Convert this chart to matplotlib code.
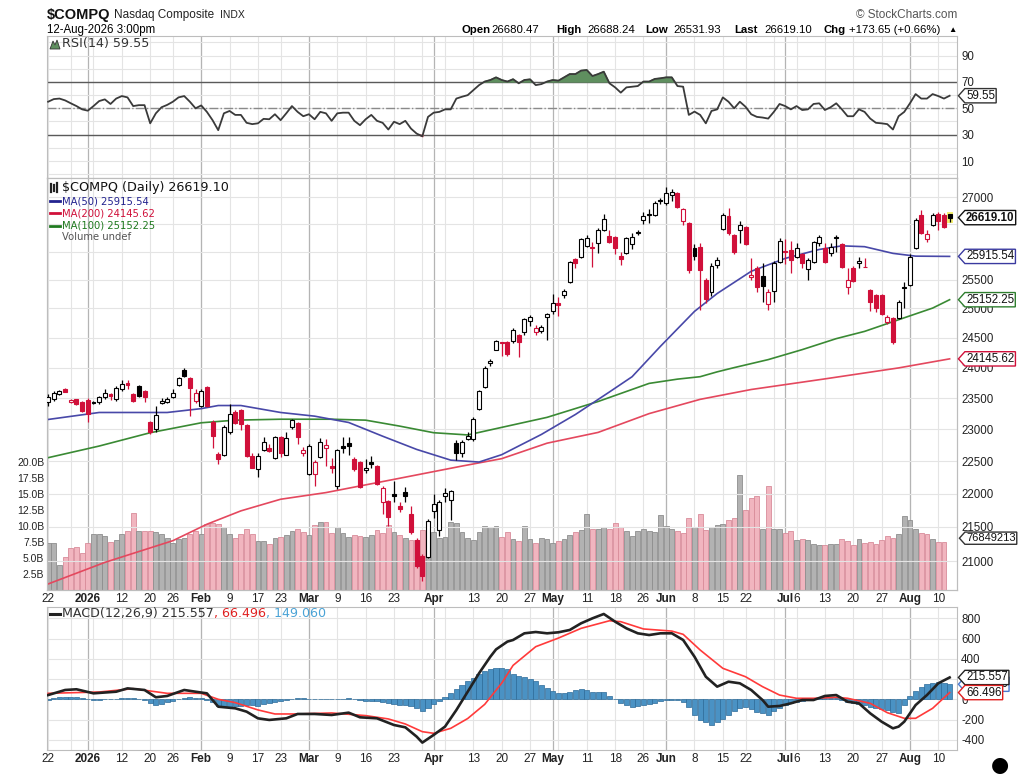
import numpy as np
import pandas as pd
import matplotlib
matplotlib.use("Agg")
import matplotlib.pyplot as plt
from matplotlib.path import Path
from matplotlib.patches import Rectangle
from matplotlib.lines import Line2D
from matplotlib.ticker import NullLocator

# ---------------- data ----------------
start_date = "2025-12-22"
end_date = "2026-08-12"
market_holidays = ["2025-12-25", "2026-01-01", "2026-01-19", "2026-02-16",
                   "2026-04-03", "2026-05-25", "2026-06-19", "2026-07-03"]

opens = [
    23430, 23480, 23570, 23650, 23440, 23480, 23440, 23470, 23440, 23430,
    23510, 23570, 23480, 23650, 23740, 23560, 23690, 23620, 23110, 23000,
    23420, 23440, 23510, 23710, 23960, 23830, 23450, 23370, 23680, 23120,
    22610, 22600, 22950, 23280, 23300, 23060, 22580, 22380, 22680, 22710,
    22550, 22880, 22600, 23030, 23100, 22620, 22300, 22300, 22570, 22700,
    22430, 22110, 22740, 22780, 22540, 22480, 22360, 22480, 22420, 21880,
    21890, 21990, 21810, 22020, 21700, 21300, 21070, 21060, 21740, 21460,
    21960, 21910, 22790, 22620, 22850, 22840, 23320, 23680, 24070, 24300,
    24420, 24430, 24440, 24550, 24600, 24780, 24600, 24610, 24850, 24950,
    25100, 25240, 25460, 25870, 25900, 26110, 26080, 26160, 26400, 26290,
    26270, 25920, 25980, 26130, 26350, 26570, 26690, 26670, 26940, 26880,
    27030, 27070, 26560, 26520, 26060, 26090, 25500, 25280, 25760, 26410,
    26640, 26300, 26390, 26450, 25550, 25710, 25560, 25080, 25310, 25820,
    26020, 26030, 25900, 25960, 25690, 25820, 26160, 26070, 25980, 26260,
    26140, 25380, 25710, 25790, 25730, 25320, 25240, 25240, 24760, 24840,
    24840, 25380, 25410, 26070, 26670, 26220, 26480, 26680, 26670, 26680.47]

highs = [
    23560, 23610, 23640, 23670, 23490, 23490, 23460, 23500, 23450, 23540,
    23650, 23590, 23690, 23790, 23800, 23580, 23720, 23640, 23130, 23380,
    23500, 23520, 23650, 23850, 23990, 23840, 23650, 23650, 23700, 23140,
    22640, 23060, 23400, 23300, 23330, 23090, 22620, 22620, 22880, 22760,
    22900, 22900, 22960, 23170, 23120, 22720, 22760, 22510, 22860, 22850,
    22550, 22690, 22880, 22880, 22560, 22500, 22530, 22580, 22440, 22110,
    21910, 22200, 21880, 22100, 21810, 21330, 21100, 21620, 21990, 21900,
    22080, 22060, 22830, 22830, 22960, 23190, 23640, 24020, 24150, 24470,
    24430, 24450, 24660, 24560, 24840, 24880, 24720, 24720, 24920, 25250,
    25200, 25340, 25830, 25890, 26240, 26300, 26180, 26430, 26680, 26400,
    26290, 26000, 26260, 26330, 26390, 26720, 26770, 26920, 26980, 27180,
    27150, 27100, 26800, 26540, 26140, 26150, 25530, 25790, 25910, 26700,
    26800, 26320, 26560, 26470, 25880, 25750, 25800, 25330, 25830, 26250,
    26230, 26200, 26150, 25980, 25880, 26200, 26300, 26160, 26150, 26300,
    26160, 25710, 25740, 25900, 25880, 25330, 25260, 25260, 24880, 24860,
    25140, 25460, 25950, 26620, 26750, 26400, 26700, 26720, 26700, 26688.24]

lows = [
    23380, 23450, 23550, 23600, 23420, 23390, 23270, 23110, 23410, 23410,
    23490, 23470, 23460, 23620, 23650, 23440, 23520, 23440, 22930, 22950,
    23400, 23420, 23500, 23700, 23840, 23210, 23420, 23350, 23350, 22710,
    22460, 22580, 22930, 23080, 22990, 22560, 22390, 22250, 22660, 22640,
    22530, 22560, 22590, 23010, 22770, 22580, 22290, 22110, 22550, 22430,
    22320, 22070, 22620, 22600, 22350, 22090, 22320, 22400, 22130, 21700,
    21510, 21870, 21720, 21880, 21400, 20900, 20710, 21040, 21630, 21360,
    21880, 21600, 22520, 22560, 22830, 22820, 23300, 23660, 24030, 24290,
    24200, 24200, 24410, 24180, 24540, 24700, 24540, 24580, 24470, 24900,
    24870, 25190, 25440, 25700, 25880, 26090, 25730, 25980, 26380, 26150,
    25950, 25760, 25960, 26050, 26310, 26510, 26520, 26650, 26870, 26850,
    26930, 26790, 26480, 25620, 25850, 24980, 25100, 25220, 25700, 26390,
    26300, 25950, 26150, 26120, 25490, 25280, 25120, 24980, 25120, 25800,
    25780, 25620, 25880, 25700, 25500, 25790, 26100, 25800, 25920, 26000,
    25710, 25260, 25460, 25700, 25720, 24950, 24940, 24880, 24740, 24400,
    24820, 25000, 25400, 26050, 26320, 26180, 26460, 26400, 26420, 26531.93]

closes = [
    23520, 23580, 23610, 23600, 23470, 23400, 23290, 23250, 23420, 23520,
    23590, 23530, 23670, 23730, 23720, 23450, 23530, 23520, 22960, 23230,
    23460, 23480, 23590, 23830, 23860, 23670, 23590, 23610, 23370, 22890,
    22540, 23030, 23240, 23100, 23080, 22580, 22400, 22580, 22800, 22660,
    22880, 22620, 22860, 23150, 22870, 22680, 22740, 22490, 22800, 22750,
    22390, 22670, 22700, 22740, 22370, 22100, 22400, 22450, 22150, 22090,
    21650, 21960, 21770, 21960, 21420, 20930, 20790, 21590, 21840, 21870,
    22010, 22040, 22630, 22800, 22890, 23170, 23620, 24000, 24110, 24450,
    24410, 24220, 24630, 24420, 24820, 24860, 24670, 24690, 24900, 25100,
    25060, 25300, 25820, 25790, 26220, 26250, 26060, 26390, 26600, 26180,
    26060, 25870, 26240, 26270, 26330, 26640, 26670, 26890, 26930, 27070,
    27090, 26810, 26780, 25680, 25920, 25680, 25160, 25750, 25860, 26670,
    26330, 26000, 26480, 26130, 25580, 25370, 25400, 25290, 25800, 26190,
    25990, 25860, 26070, 25800, 25850, 26170, 26270, 25820, 26090, 26240,
    25730, 25500, 25480, 25830, 25720, 25120, 25000, 24900, 24860, 24420,
    25120, 25350, 25900, 26580, 26340, 26320, 26670, 26560, 26445, 26619.10]
prev_close0 = 23400

volume_bn = [
    7.4, 7.4, 3.9, 5.2, 6.6, 6.7, 5.8, 7.3, 8.75, 8.8,
    8.5, 7.5, 7.8, 8.75, 9.2, 12.0, 9.3, 9.2, 9.2, 9.0,
    8.75, 8.1, 7.4, 8.0, 8.2, 8.75, 9.2, 8.8, 10.3, 10.5,
    10.3, 9.9, 8.8, 8.1, 8.75, 9.6, 8.75, 7.6, 7.6, 7.2,
    8.1, 8.3, 8.6, 9.2, 9.6, 9.1, 8.6, 10.2, 10.6, 10.6,
    8.9, 9.9, 8.9, 8.3, 8.6, 8.5, 8.3, 8.6, 9.4, 8.9,
    10.2, 9.1, 8.6, 8.1, 7.8, 7.8, 9.4, 10.6, 9.1, 8.1,
    8.3, 10.6, 10.4, 9.1, 8.1, 7.8, 9.0, 10.0, 9.8, 10.0,
    8.3, 9.1, 7.9, 7.7, 10.0, 7.9, 7.4, 8.1, 7.9, 7.4,
    7.7, 7.9, 8.6, 9.0, 9.4, 11.9, 9.6, 9.6, 9.8, 9.5,
    10.4, 9.8, 9.2, 8.5, 9.2, 9.6, 9.2, 9.0, 11.7, 10.0,
    9.6, 9.2, 8.9, 11.2, 9.9, 11.9, 9.4, 9.9, 10.1, 10.3,
    10.9, 11.2, 18.0, 12.5, 14.4, 14.7, 9.6, 16.2, 9.5, 9.6,
    8.9, 9.2, 7.8, 8.0, 7.8, 7.2, 7.0, 7.0, 7.2, 7.2,
    8.0, 7.7, 7.0, 7.9, 7.4, 7.5, 7.2, 7.8, 8.4, 8.2,
    8.7, 11.6, 11.0, 9.5, 8.9, 8.7, 8.0, 7.5, 7.5, np.nan]

rsi14 = [
    55.0, 57.0, 57.4, 56.0, 53.8, 51.7, 49.2, 48.2, 51.7, 55.5,
    56.8, 53.3, 57.4, 59.3, 58.3, 51.7, 52.4, 52.4, 38.6, 46.2,
    50.8, 52.6, 55.0, 58.3, 59.3, 55.0, 50.0, 52.2, 47.3, 41.0,
    33.4, 46.2, 48.0, 45.0, 45.0, 39.0, 38.0, 38.6, 42.0, 41.7,
    45.5, 41.0, 46.2, 51.7, 47.3, 44.0, 45.5, 41.7, 47.3, 46.2,
    40.5, 46.2, 46.7, 46.7, 40.5, 37.2, 41.7, 45.0, 40.5, 39.0,
    33.9, 39.8, 38.0, 40.5, 34.6, 30.8, 28.8, 43.5, 46.7, 47.3,
    49.2, 49.2, 57.4, 58.8, 60.0, 63.8, 67.6, 70.3, 71.5, 73.5,
    71.5, 70.3, 72.1, 69.0, 71.5, 72.0, 67.6, 68.4, 70.3, 71.5,
    71.0, 73.5, 76.0, 76.0, 78.6, 79.1, 74.5, 76.0, 77.8, 69.0,
    65.9, 61.9, 65.9, 66.4, 66.9, 70.3, 70.3, 72.3, 72.8, 73.5,
    73.5, 66.9, 66.4, 45.0, 47.5, 45.0, 38.6, 48.0, 49.2, 58.3,
    55.0, 50.0, 55.0, 51.2, 45.5, 43.5, 43.0, 42.2, 47.3, 53.3,
    51.7, 49.2, 51.7, 48.7, 49.2, 53.3, 53.8, 48.7, 50.8, 53.8,
    49.2, 44.0, 44.0, 49.2, 47.3, 42.2, 39.0, 38.6, 38.0, 33.9,
    44.0, 47.3, 53.8, 60.8, 57.4, 57.4, 60.8, 59.3, 57.4, 59.55]

ma50_days = [0, 9, 21, 27, 30, 34, 41, 47, 53, 59, 65, 71, 76, 80, 87, 93, 99,
             103, 108, 114, 118, 124, 130, 136, 140, 144, 149, 153, 159]
ma50_vals = [23156, 23268, 23268, 23330, 23380, 23380, 23268, 23209, 23108,
             22890, 22682, 22515, 22485, 22600, 22918, 23236, 23600, 23850,
             24356, 24950, 25260, 25650, 25880, 26040, 26105, 26090, 25970,
             25920, 25915.54]
ma100_days = [0, 9, 18, 27, 33, 41, 50, 56, 62, 68, 74, 80, 88, 97, 106, 111,
              115, 118, 121, 127, 133, 139, 144, 150, 156, 159]
ma100_vals = [22553, 22735, 22945, 23103, 23145, 23160, 23160, 23145, 23050,
              22945, 22910, 23030, 23190, 23445, 23740, 23810, 23850, 23930,
              24000, 24133, 24300, 24485, 24608, 24807, 25007, 25152.25]
ma200_days = [0, 10, 22, 28, 34, 37, 41, 49, 61, 73, 80, 88, 97, 106, 115,
              124, 137, 150, 159]
ma200_vals = [20670, 20980, 21297, 21540, 21740, 21815, 21915, 22016, 22218,
              22423, 22538, 22780, 22950, 23250, 23480, 23640, 23814, 23995,
              24145.62]

macd_days = [0, 3, 5, 8, 12, 14, 17, 19, 21, 24, 26, 28, 30, 33, 35, 37, 39,
             42, 44, 47, 50, 53, 55, 58, 61, 63, 65, 66, 68, 70, 72, 74, 76,
             78, 79, 81, 82, 84, 86, 88, 90, 92, 94, 96, 98, 100, 102, 104,
             106, 108, 110, 112, 114, 116, 118, 120, 122, 124, 126, 127, 129,
             131, 133, 135, 137, 139, 141, 143, 145, 147, 149, 150, 151, 153,
             155, 157, 159]
macd_vals = [42, 92, 99, 59, 75, 108, 92, 20, 33, 92, 75, 59, -73, -89, -122,
             -188, -204, -188, -145, -145, -155, -132, -178, -188, -254, -277,
             -369, -428, -352, -270, -106, 75, 257, 421, 493, 570, 586, 652,
             665, 652, 662, 685, 751, 800, 843, 767, 701, 652, 635, 652, 652,
             586, 421, 223, 125, 174, 158, 92, -7, -73, -66, -40, -7, -7, 33,
             42, -24, -40, -139, -221, -287, -270, -221, -57, 42, 158, 215.557]
signal_days = [0, 9, 15, 21, 27, 30, 33, 37, 40, 44, 50, 56, 60, 63, 66, 68,
               71, 74, 77, 80, 82, 86, 90, 94, 99, 101, 105, 110, 112, 115,
               119, 123, 126, 129, 132, 135, 139, 141, 145, 148, 151, 153,
               156, 159]
signal_vals = [59, 72, 105, 59, 59, 0, -33, -105, -145, -145, -135, -161,
               -194, -244, -320, -336, -287, -190, -50, 160, 335, 520, 605,
               701, 776, 767, 695, 674, 642, 487, 306, 223, 125, 42, 10, 10,
               20, 10, -40, -132, -188, -188, -89, 66.496]
macd_hist = [
    -10, 15, 20, 20, 20, 20, 15, 5, -5, -5,
    0, 5, 5, 10, 12, 10, 5, -5, -40, -55,
    -45, -30, -15, 0, 15, 20, 15, 10, -5, -30,
    -70, -80, -75, -70, -65, -60, -60, -65, -50, -40,
    -25, -15, -5, 5, 10, 8, 5, 2, 0, 3,
    0, 5, 5, 8, 0, -10, -20, -15, -20, -25,
    -40, -50, -55, -55, -65, -90, -120, -90, -50, -20,
    20, 60, 100, 140, 180, 215, 250, 275, 295, 305,
    305, 300, 250, 230, 217, 200, 180, 140, 109, 82,
    59, 65, 75, 90, 99, 90, 75, 75, 75, 33,
    0, -40, -60, -73, -70, -56, -45, -33, -20, -7,
    -5, -7, -30, -73, -155, -200, -221, -254, -221, -190,
    -155, -120, -89, -73, -95, -122, -140, -155, -120, -90,
    -56, -40, -24, -15, -7, 0, 10, 12, 12, 10,
    -5, -24, -35, -47, -60, -73, -85, -95, -106, -125,
    -139, -56, 30, 80, 125, 150, 165, 174, 165, 149.06]

tick_dates = ["2025-12-22", "2026-01-02", "2026-01-12", "2026-01-20", "2026-01-26",
              "2026-02-02", "2026-02-09", "2026-02-17", "2026-02-23", "2026-03-02",
              "2026-03-09", "2026-03-16", "2026-03-23", "2026-04-01", "2026-04-13",
              "2026-04-20", "2026-04-27", "2026-05-01", "2026-05-11", "2026-05-18",
              "2026-05-26", "2026-06-01", "2026-06-08", "2026-06-15", "2026-06-22",
              "2026-07-01", "2026-07-06", "2026-07-13", "2026-07-20", "2026-07-27",
              "2026-08-03", "2026-08-10"]
tick_labels = ["22", "2026", "12", "20", "26", "Feb", "9", "17", "23", "Mar", "9",
               "16", "23", "Apr", "13", "20", "27", "May", "11", "18", "26", "Jun",
               "8", "15", "22", "Jul", "6", "13", "20", "27", "Aug", "10"]
bold_labels = ["2026", "Feb", "Mar", "Apr", "May", "Jun", "Jul", "Aug"]

price_ticks = [21000, 21500, 22000, 22500, 23000, 23500, 24000, 24500,
               25000, 25500, 26000, 26500, 27000]
price_tick_labels = ["21000", "21500", "22000", "22500", "23000", "23500", "24000",
                     "24500", "25000", "25500", "", "", "27000"]
rsi_ticks = [10, 30, 50, 70, 90]
macd_ticks = [-400, -200, 0, 200, 400, 600, 800]
macd_tick_labels = ["-400", "-200", "0", "", "400", "600", "800"]
vol_ticks = [2.5, 5.0, 7.5, 10.0, 12.5, 15.0, 17.5, 20.0]

# ---------------- styling ----------------
plt.rcParams['font.family'] = ['Liberation Sans', 'DejaVu Sans']
RED = '#d0103a'
GRID = '#e4e4e4'
MONTHGRID = '#b4b4b4'
SPINE = '#bdbdbd'
LEGF = ['DejaVu Sans']
HDRF = ['Liberation Sans', 'DejaVu Sans']

days = pd.bdate_range(start_date, end_date, freq='C', holidays=market_holidays)
n = len(days)
x = np.arange(n)
o = np.array(opens, float); h = np.array(highs, float)
lo = np.array(lows, float); c = np.array(closes, float)
prev = np.concatenate([[prev_close0], c[:-1]])
up = c >= prev

wk = days.isocalendar().week.values
week_pos = [i for i in range(n) if i == 0 or wk[i] != wk[i - 1]]
month_pos = [i for i in range(1, n) if days[i].month != days[i - 1].month]
tick_pos = [days.get_loc(pd.Timestamp(d)) for d in tick_dates]

W_PX, H_PX = 1024, 775
fig = plt.figure(figsize=(W_PX / 100, H_PX / 100), dpi=100)
fig.patch.set_facecolor('white')


def rect(top, bottom, left=47, right=957):
    return [left / W_PX, 1 - bottom / H_PX, (right - left) / W_PX, (bottom - top) / H_PX]


def fp(px, py):
    return px / W_PX, 1 - py / H_PX


ax_rsi = fig.add_axes(rect(36, 178))
ax_vol = fig.add_axes(rect(178, 590))
ax = fig.add_axes(rect(178, 590))
ax_macd = fig.add_axes(rect(607, 750))
ax_vol.set_zorder(1)
ax.set_zorder(2)
ax.patch.set_visible(False)

XL = (-0.2, n + 0.3)
for a in (ax_rsi, ax_vol, ax, ax_macd):
    a.set_xlim(*XL)
    for s in a.spines.values():
        s.set_color(SPINE)
        s.set_linewidth(0.8)
    a.tick_params(axis='both', length=0, labelsize=8.3, colors='#222222')
    a.set_xticks([])

for a in (ax_rsi, ax_vol, ax_macd):
    for wpos in week_pos:
        a.axvline(wpos, color=GRID, lw=0.8, zorder=0)
    for mpos in month_pos:
        a.axvline(mpos, color=MONTHGRID, lw=0.9, zorder=0)


def tag_box(x0, y0, width, height, mutation_size):
    pad = 0.1 * mutation_size
    x0 -= pad; y0 -= pad
    w = width + 2 * pad; hh = height + 2 * pad
    tip = 0.45 * hh
    verts = [(x0 - tip, y0 + hh / 2), (x0, y0 + hh), (x0 + w, y0 + hh),
             (x0 + w, y0), (x0, y0), (x0 - tip, y0 + hh / 2)]
    codes = [Path.MOVETO, Path.LINETO, Path.LINETO, Path.LINETO, Path.LINETO, Path.CLOSEPOLY]
    return Path(verts, codes)


def tag(a, yv, text, ec, tc='#111111', bold=False, fs=8.3, z=10):
    a.annotate(text, xy=(1, yv), xycoords=a.get_yaxis_transform(),
               xytext=(6.5, 0), textcoords='offset points', ha='left', va='center',
               fontsize=fs, color=tc, fontweight='bold' if bold else 'normal',
               bbox=dict(boxstyle=tag_box, fc='white', ec=ec, lw=1.0),
               annotation_clip=False, zorder=z)


# ---------------- RSI ----------------
rsi = np.array(rsi14)
ax_rsi.set_ylim(-2.9, 104.9)
for gv in range(0, 101, 10):
    ax_rsi.axhline(gv, color=GRID, lw=0.8, zorder=0)
ax_rsi.fill_between(x, rsi, 70, where=rsi >= 70, interpolate=True, color='#5f8f5f', zorder=2)
ax_rsi.fill_between(x, rsi, 30, where=rsi <= 30, interpolate=True, color='#d06070', zorder=2)
ax_rsi.axhline(70, color='#5a5a5a', lw=1.0, zorder=1)
ax_rsi.axhline(30, color='#5a5a5a', lw=1.0, zorder=1)
ax_rsi.axhline(50, color='#8a8a8a', lw=1.0, ls='-.', zorder=1)
ax_rsi.plot(x, rsi, color='#3a3a3a', lw=1.3, zorder=3)
ax_rsi.yaxis.tick_right()
ax_rsi.set_yticks(rsi_ticks)
ax_rsi.set_yticklabels([str(t) for t in rsi_ticks])
ax_rsi.tick_params(axis='y', pad=3)
tag(ax_rsi, rsi[-1], f"{rsi[-1]:.2f}", '#333333')

# ---------------- volume ----------------
vol = np.array(volume_bn, float)
ax_vol.set_ylim(0, 64.4)
vcol = np.where(up, '#b2b2b2', '#f1b5bf')
vedge = np.where(up, '#8e8e8e', '#d88c9a')
ax_vol.bar(x, vol, width=0.85, color=vcol, edgecolor=vedge, linewidth=0.6, zorder=1)
ax_vol.set_yticks(vol_ticks)
ax_vol.set_yticklabels([f"{v:.1f}B" for v in vol_ticks])
ax_vol.tick_params(axis='y', labelsize=7.5, pad=2)
tag(ax_vol, 8.1, "76849213", '#333333', fs=8)

# ---------------- price ----------------
ax.set_yscale('log')
ax.set_ylim(20584, 27357)
ax.yaxis.set_minor_locator(NullLocator())
for pv in price_ticks:
    ax.axhline(pv, color=GRID, lw=0.8, zorder=0.5)
ax.yaxis.tick_right()
ax.set_yticks(price_ticks)
ax.set_yticklabels(price_tick_labels)
ax.yaxis.set_minor_formatter(plt.NullFormatter())
ax.tick_params(axis='y', pad=3)

ax.plot(ma200_days, ma200_vals, color='#e4485e', lw=1.2, zorder=2)
ax.plot(ma100_days, ma100_vals, color='#3a8a34', lw=1.2, zorder=2)
ax.plot(ma50_days, ma50_vals, color='#4848a8', lw=1.2, zorder=2)

# highlight last bar
ax.add_patch(Rectangle((n - 1 - 0.55, lo[-1] - 20), 1.1, h[-1] - lo[-1] + 60,
                       fc='#f4f070', ec='none', zorder=2.5))
bw = 0.7
for i in range(n):
    col = 'black' if up[i] else RED
    ax.vlines(i, lo[i], h[i], color=col, lw=0.9, zorder=3)
    bot = min(o[i], c[i])
    ht = max(abs(c[i] - o[i]), 4)
    filled = c[i] < o[i]
    ax.add_patch(Rectangle((i - bw / 2, bot), bw, ht, fc=col if filled else 'white',
                           ec=col, lw=0.8, zorder=4))

tag(ax, 24145.62, "24145.62", '#d0103a')
tag(ax, 25152.25, "25152.25", '#2f7f2f')
tag(ax, 25915.54, "25915.54", '#3a3aa0')
tag(ax, 26619.10, "26619.10", '#111111', bold=True)

# ---------------- MACD ----------------
ax_macd.set_ylim(-501, 912)
for gv in range(-400, 801, 200):
    ax_macd.axhline(gv, color=GRID, lw=0.8, zorder=0)
hist = np.array(macd_hist, float)
ax_macd.bar(x, hist, width=0.9, color='#4a92c4', edgecolor='#2c6a98', linewidth=0.5, zorder=1)
ax_macd.plot(signal_days, signal_vals, color='#ff3a3a', lw=1.2, zorder=3)
ax_macd.plot(macd_days, macd_vals, color='#222222', lw=1.9, zorder=4)
ax_macd.yaxis.tick_right()
ax_macd.set_yticks(macd_ticks)
ax_macd.set_yticklabels(macd_tick_labels)
ax_macd.tick_params(axis='y', pad=3)
tag(ax_macd, 149.06, "149.060", '#4a7ad0', z=8)
tag(ax_macd, 215.557, "215.557", '#222222', z=9)
tag(ax_macd, 66.496, "66.496", '#e02020', z=10)

# ---------------- x tick labels ----------------
for a in (ax, ax_macd):
    a.set_xticks(tick_pos)
    a.set_xticklabels(tick_labels)
    a.tick_params(axis='x', labelsize=8.5, pad=2.5)
    for lab in a.get_xticklabels():
        if lab.get_text() in bold_labels:
            lab.set_fontweight('bold')

renderer = fig.canvas.get_renderer()


def chain(px, py, pieces, fs, family=LEGF):
    cur = px
    for txt, colr, wt, gap, size in pieces:
        t = fig.text(cur / W_PX, 1 - py / H_PX, txt, fontsize=size or fs, color=colr,
                     va='center', ha='left', family=family, fontweight=wt)
        bb = t.get_window_extent(renderer)
        cur = bb.x1 + gap


# ---------------- header ----------------
chain(47, 15, [("$COMPQ", '#111111', 'bold', 4, 10.5),
               ("Nasdaq Composite", '#222222', 'normal', 5, 8.5),
               ("INDX", '#222222', 'normal', 0, 7.5)], 8.5, family=HDRF)
fig.text(*fp(47, 30), "12-Aug-2026 3:00pm", fontsize=8.3, va='center', ha='left')
fig.text(*fp(957, 15), "\u00a9 StockCharts.com", fontsize=8.5, va='center', ha='right',
         color='#555555')
hdr = [(462, "Open", True), (491, "26680.47", False), (556, "High", True),
       (587, "26688.24", False), (645, "Low", True), (673, "26531.93", False),
       (734, "Last", True), (764, "26619.10", False), (823, "Chg", True),
       (849, "+173.65 (+0.66%)", False), (948, "\u25b2", False)]
for hx, ht_, hb in hdr:
    fig.text(*fp(hx, 30), ht_, fontsize=8.2 if ht_ != "\u25b2" else 6,
             fontweight='bold' if hb else 'normal', va='center', ha='left')

# ---------------- legends ----------------


def leg_line(py, colr, lw=2.0):
    fig.add_artist(Line2D([50 / W_PX, 60 / W_PX], [1 - py / H_PX] * 2, color=colr, lw=lw))


fig.add_artist(plt.Polygon([fp(50, 49), fp(53, 41), fp(55, 45), fp(57, 40), fp(60, 49)],
                           closed=True, fc='#5f8f5f', ec='#333333', lw=0.6))
chain(62, 44, [("RSI(14) 59.55", '#333333', 'normal', 0, None)], 9.2)

for bx, by0, by1 in [(51, 184, 192), (54, 185, 191), (57, 183, 192)]:
    fig.add_artist(Line2D([bx / W_PX] * 2, [1 - by0 / H_PX, 1 - by1 / H_PX],
                          color='#222222', lw=1.6))
chain(62, 188, [("$COMPQ (Daily) 26619.10", '#111111', 'normal', 0, None)], 9.2)
leg_line(201, '#23238f')
chain(62, 201, [("MA(50) 25915.54", '#23238f', 'normal', 0, None)], 7.2)
leg_line(213, '#d0103a')
chain(62, 213, [("MA(200) 24145.62", '#d0103a', 'normal', 0, None)], 7.2)
leg_line(226, '#1f7a1f')
chain(62, 226, [("MA(100) 25152.25", '#1f7a1f', 'normal', 0, None)], 7.2)
for k, bh in enumerate([5, 8, 6, 7]):
    fig.add_artist(Rectangle(fp(50 + 2.6 * k, 241), 2.0 / W_PX, bh / H_PX,
                             fc='#6a6a6a', ec='none'))
chain(62, 237, [("Volume undef", '#555555', 'normal', 0, None)], 7.2)

leg_line(614, '#222222', lw=2.2)
chain(62, 614, [("MACD(12,26,9) 215.557", '#333333', 'normal', 0, None),
                (", 66.496", '#e02020', 'normal', 0, None),
                (", 149.060", '#4aa3d6', 'normal', 0, None)], 9.1)

fig.text(*fp(1000, 765), "\u25cf", fontsize=15, ha='center', va='center', color='black',
         family=LEGF)

fig.savefig("out.png", dpi=100, facecolor='white')
